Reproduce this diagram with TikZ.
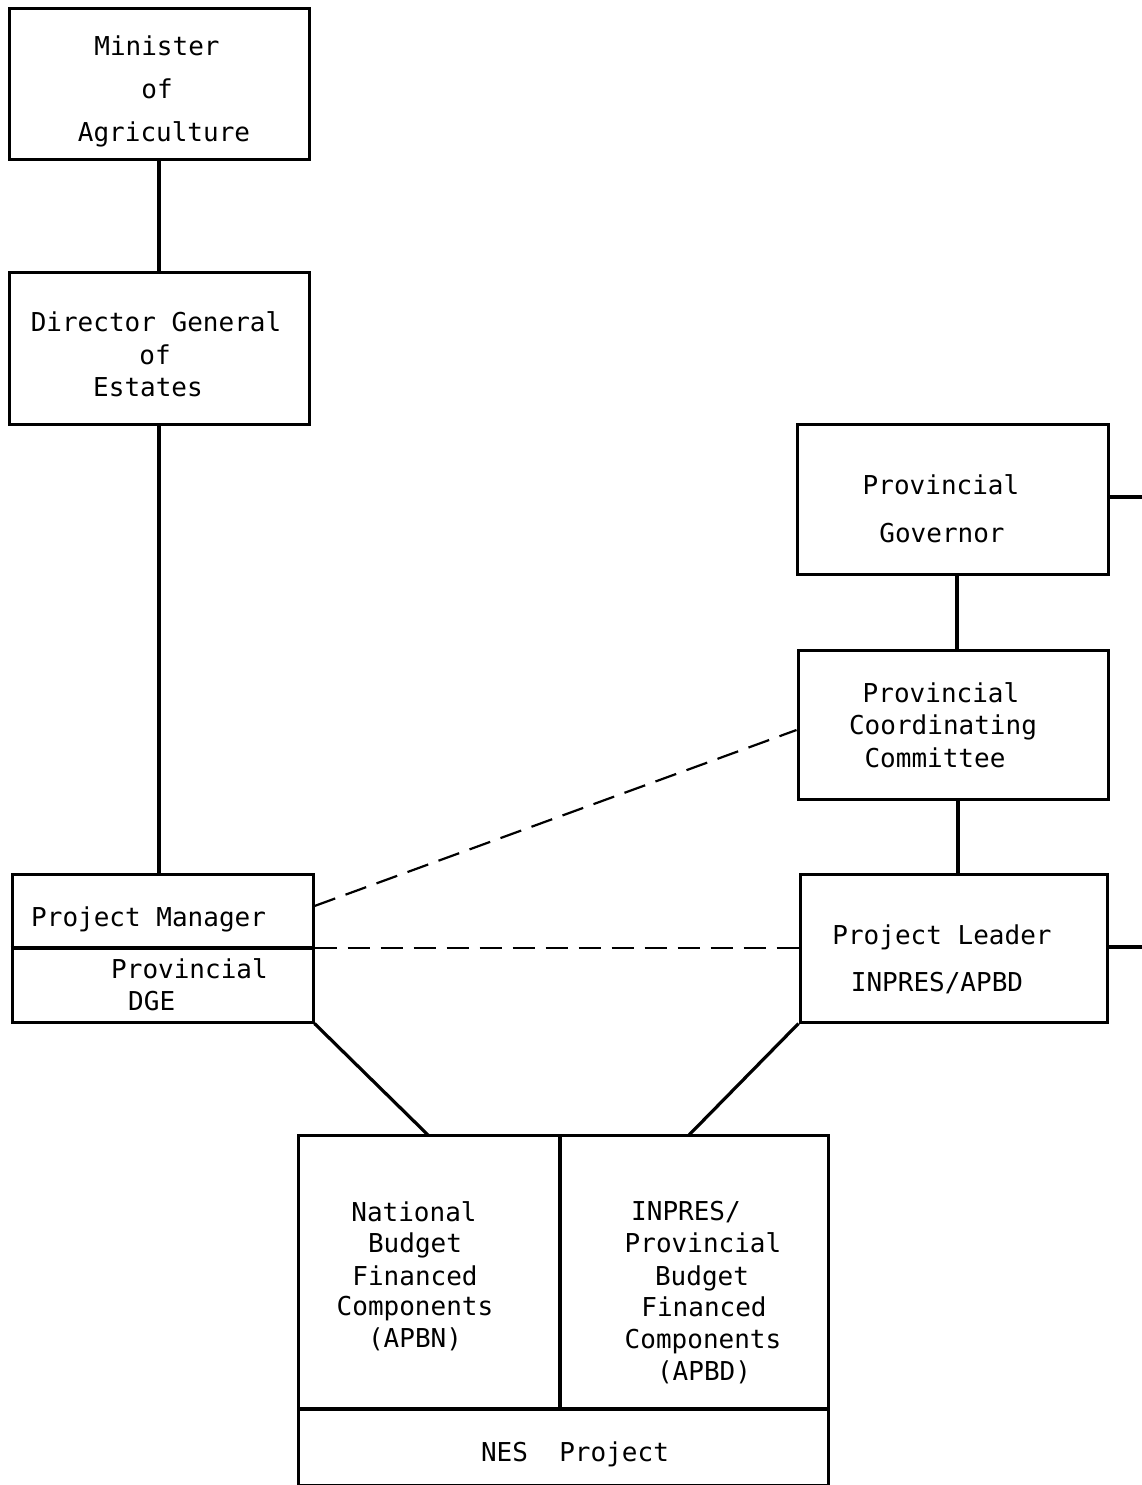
\documentclass[tikz,border=0pt]{standalone}
\usepackage{fontspec}
\setmonofont{DejaVu Sans Mono}
\begin{document}
\begin{tikzpicture}[x=1pt,y=-1pt,
  box/.style={draw,line width=3pt,inner sep=0pt},
  ln/.style={line width=3.2pt},
  dsh/.style={line width=2.2pt,dash pattern=on 22pt off 11pt},
  txt/.style={anchor=base,inner sep=0pt,font=\fontsize{26}{30}\ttfamily},
  txtw/.style={txt,anchor=base west}]
\useasboundingbox (0,0) rectangle (1142,1485);
\clip (0,0) rectangle (1142,1485);
% boxes
\node[box,minimum width=300pt,minimum height=150pt] (min) at (159,84) {};
\node[box,minimum width=300pt,minimum height=152pt] (dg) at (159,348) {};
\node[box,minimum width=301pt,minimum height=148pt] (pm) at (162.5,948) {};
\node[box,minimum width=311pt,minimum height=150pt] (gov) at (952.5,499) {};
\node[box,minimum width=310pt,minimum height=149pt] (pcc) at (953,724.5) {};
\node[box,minimum width=307pt,minimum height=148pt] (pl) at (953.5,948) {};
\node[box,minimum width=530pt,minimum height=350pt] (nes) at (563,1310) {};
% dividers
\draw[ln] (pm.west) -- (pm.east);
\coordinate (nesdivL) at (298,1409);
\coordinate (nesdivR) at (828,1409);
\draw[ln] (nesdivL) -- (nesdivR);
\coordinate (nesmidT) at (560,1135);
\coordinate (nesmidB) at (560,1409);
\draw[ln] (nesmidT) -- (nesmidB);
% texts
\node[txt] (t1) at (157,56) {Minister};
\node[txt] (t2) at (157,99) {of};
\node[txt] (t3) at (164,142) {Agriculture};
\node[txt] (t4) at (156,331) {Director General};
\node[txt] (t5) at (155,364) {of};
\node[txt] (t6) at (148,396) {Estates};
\node[txtw] (t7) at (31,926) {Project Manager};
\node[txtw] (t8) at (111,978) {Provincial};
\node[txtw] (t9) at (128,1010) {DGE};
\node[txt] (t10) at (941,494) {Provincial};
\node[txt] (t11) at (942,542) {Governor};
\node[txt] (t12) at (941,702) {Provincial};
\node[txt] (t13) at (943,734) {Coordinating};
\node[txt] (t14) at (935,767) {Committee};
\node[txt] (t15) at (942,944) {Project Leader};
\node[txt] (t16) at (937,991) {INPRES/APBD};
\node[txt] (t17) at (414,1221) {National};
\node[txt] (t18) at (415,1252) {Budget};
\node[txt] (t19) at (415,1285) {Financed};
\node[txt] (t20) at (415,1315) {Components};
\node[txt] (t21) at (415,1347) {(APBN)};
\node[txt] (t22) at (686,1220) {INPRES/};
\node[txt] (t23) at (703,1252) {Provincial};
\node[txt] (t24) at (702,1285) {Budget};
\node[txt] (t25) at (704,1316) {Financed};
\node[txt] (t26) at (703,1348) {Components};
\node[txt] (t27) at (704,1380) {(APBD)};
\node[txt] (t28) at (575,1461) {NES\ \ Project};
% connectors
\draw[ln] (min.south) -- (dg.north);
\draw[ln] (dg.south) -- (pm.north -| dg.south);
\draw[ln] (gov.south -| 957,0) -- (pcc.north -| 957,0);
\draw[ln] (pcc.south -| 958,0) -- (pl.north -| 958,0);
\coordinate (nesTL) at (428,1135);
\coordinate (nesTR) at (689,1135);
\draw[ln] (pm.south east) -- (nesTL);
\draw[ln] (pl.south west) -- (nesTR);
\draw[dsh] (pm.east |- 0,906) -- (pcc.west |- 0,730);
\draw[dsh] (pm.east) -- (pl.west);
\coordinate (rgTop) at (1150,497);
\coordinate (rgBot) at (1150,947);
\draw[ln] (gov.east |- rgTop) -- (rgTop) -- (rgBot) -- (pl.east |- rgBot);
\end{tikzpicture}
\end{document}
